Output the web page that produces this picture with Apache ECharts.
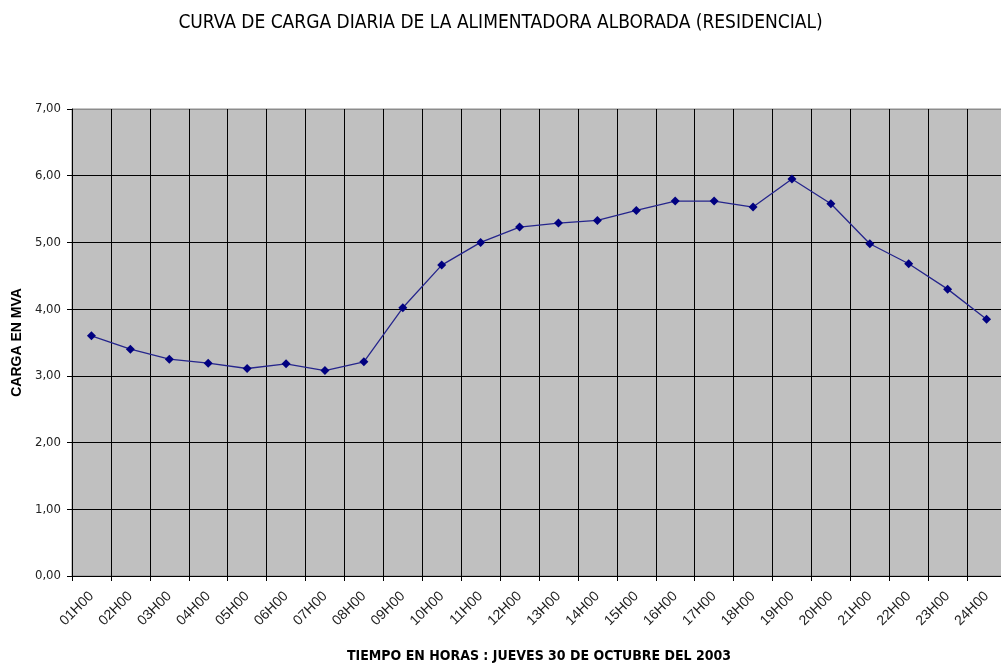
<!DOCTYPE html>
<html>
<head>
<meta charset="utf-8">
<title>Curva de carga diaria</title>
<script src="https://cdn.jsdelivr.net/npm/echarts@6/dist/echarts.min.js"></script>
<style>
  html, body { margin: 0; padding: 0; background: #fff; }
  #chart { width: 1001px; height: 666px; }
</style>
</head>
<body>
<div id="chart"></div>
<script>
// horas del dia
var horas = ['01H00','02H00','03H00','04H00','05H00','06H00','07H00','08H00',
  '09H00','10H00','11H00','12H00','13H00','14H00','15H00','16H00',
  '17H00','18H00','19H00','20H00','21H00','22H00','23H00','24H00'];
// carga en MVA
var carga = [3.60, 3.40, 3.25, 3.19, 3.11, 3.18, 3.08, 3.21,
  4.02, 4.66, 5.00, 5.23, 5.29, 5.33, 5.48, 5.62,
  5.62, 5.53, 5.95, 5.58, 4.98, 4.68, 4.30, 3.85];
var yMin = 0, yMax = 7, yPaso = 1;

var fuente = '"Liberation Sans Narrow", "DejaVu Sans Condensed", Arial, sans-serif';

var chart = echarts.init(document.getElementById('chart'));
var options = {
  animation: false,
  title: {
    text: 'CURVA DE CARGA DIARIA DE LA ALIMENTADORA ALBORADA (RESIDENCIAL)',
    left: 'center',
    top: 9,
    textStyle: { fontFamily: fuente, fontSize: 19, fontWeight: 'normal', color: '#000' }
  },
  grid: {
    left: 72, top: 109, right: -5, bottom: 90,
    outerBoundsMode: 'none',
    containLabel: false,
    show: true,
    backgroundColor: '#c0c0c0',
    borderColor: '#8c8c8c',
    borderWidth: 1
  },
  xAxis: {
    type: 'category',
    data: horas,
    boundaryGap: true,
    name: 'TIEMPO EN HORAS : JUEVES 30 DE OCTUBRE DEL 2003',
    nameLocation: 'middle',
    nameGap: 73,
    nameTextStyle: { fontFamily: fuente, fontSize: 14, fontWeight: 'bold', color: '#000' },
    axisLine: { lineStyle: { color: '#000', width: 1 } },
    axisTick: { show: true, length: 5, lineStyle: { color: '#000' } },
    axisLabel: { rotate: 45, interval: 0, margin: 18, fontFamily: 'Liberation Sans, Arial, sans-serif', fontSize: 14, color: '#222' },
    splitLine: { show: true, lineStyle: { color: '#000', width: 1 } }
  },
  yAxis: {
    type: 'value',
    min: yMin, max: yMax, interval: yPaso,
    name: 'CARGA EN MVA',
    nameLocation: 'middle',
    nameGap: 47,
    nameTextStyle: { fontFamily: 'Liberation Sans, Arial, sans-serif', fontSize: 14, fontWeight: 'bold', color: '#000' },
    axisLine: { show: true, lineStyle: { color: '#000', width: 1 } },
    axisTick: { show: true, length: 5, lineStyle: { color: '#000' } },
    axisLabel: {
      margin: 11, fontFamily: fuente, fontSize: 13, color: '#222',
      formatter: function (v) { return v.toFixed(2).replace('.', ','); }
    },
    splitLine: {
      show: true,
      lineStyle: { color: ['#000','#000','#000','#000','#000','#000','#000','#8c8c8c'], width: 1 }
    }
  },
  series: [{
    name: 'Carga',
    type: 'line',
    data: carga,
    symbol: 'diamond',
    symbolSize: 9,
    itemStyle: { color: '#000080' },
    lineStyle: { color: '#25258c', width: 1.3 }
  }]
};
chart.setOption(options);
</script>
</body>
</html>
